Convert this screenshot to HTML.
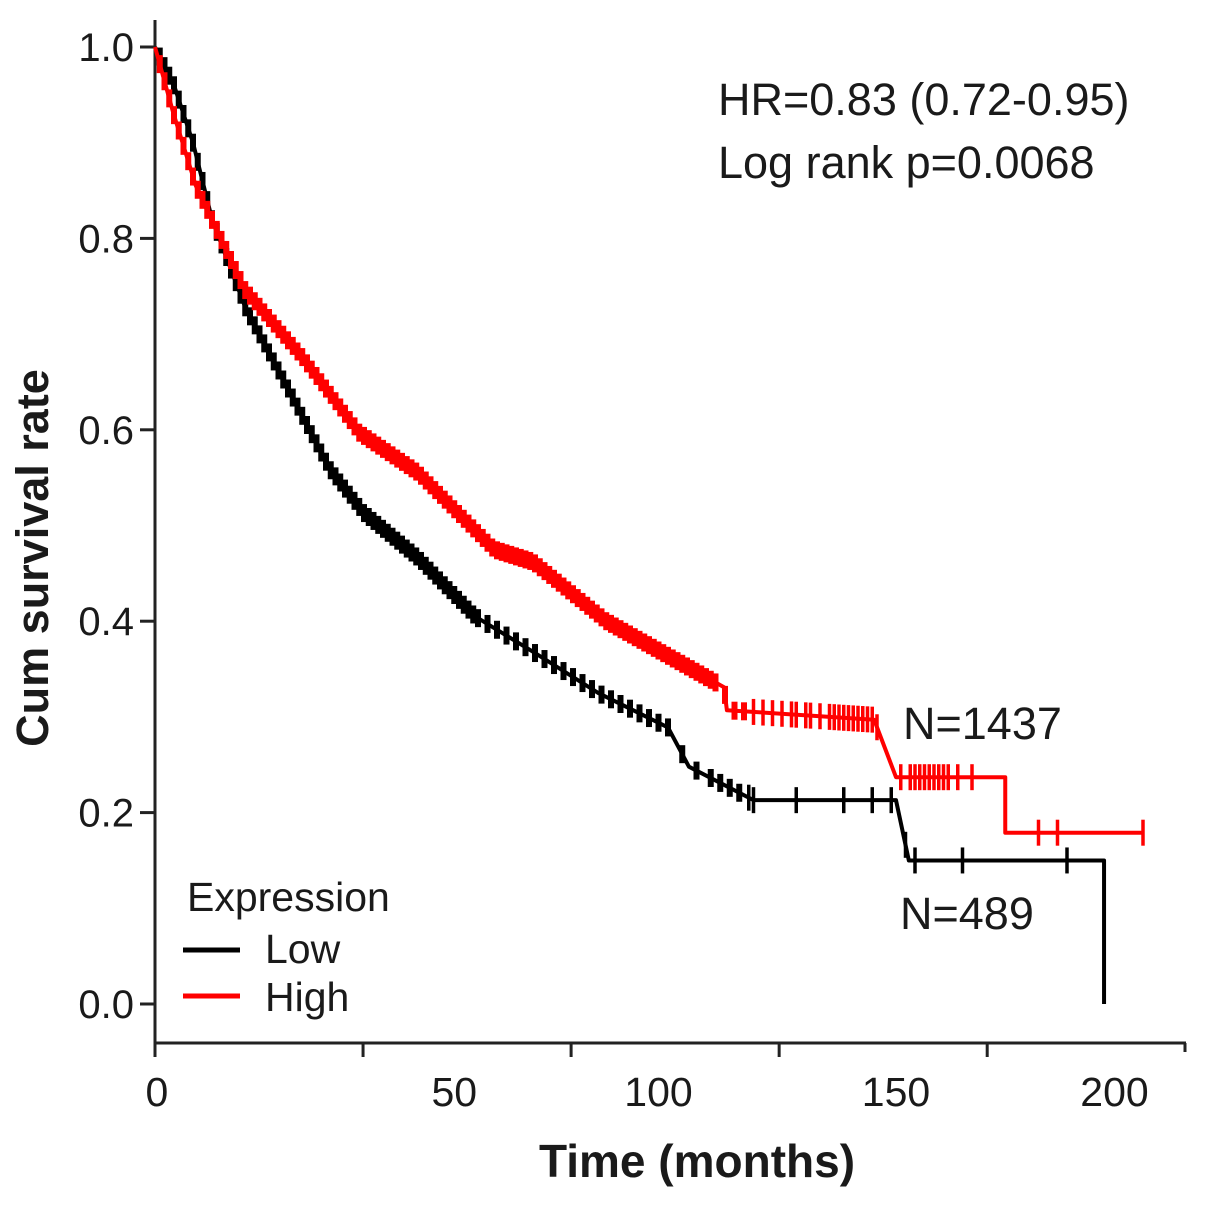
<!DOCTYPE html>
<html><head><meta charset="utf-8"><style>
body{margin:0;background:#fff}
svg text{font-family:"Liberation Sans",Arial,sans-serif;fill:#1a1a1a}
</style></head><body>
<svg id="c" width="1205" height="1200" viewBox="0 0 1205 1200" xmlns="http://www.w3.org/2000/svg">
<g id="axes"></g>
<g id="series"></g>
<text x="718" y="115" font-size="45">HR=0.83 (0.72-0.95)</text>
<text x="718" y="178" font-size="45">Log rank p=0.0068</text>
<text x="903" y="739" font-size="45">N=1437</text>
<text x="900" y="929" font-size="45">N=489</text>
<g>
<text x="187" y="911" font-size="41">Expression</text>
<line x1="183" y1="950" x2="240" y2="950" stroke="#000" stroke-width="5"/>
<text x="265" y="963" font-size="41">Low</text>
<line x1="183" y1="996" x2="240" y2="996" stroke="#f00" stroke-width="5"/>
<text x="265" y="1011" font-size="41">High</text>
</g>
<text x="697" y="1177" font-size="46" font-weight="bold" text-anchor="middle">Time (months)</text>
<text transform="translate(48,558) rotate(-90)" font-size="45" font-weight="bold" text-anchor="middle">Cum survival rate</text>
</svg>
<script>
const yTicks=[0,0.2,0.4,0.6,0.8,1.0];
const yTickLabels=["0.0","0.2","0.4","0.6","0.8","1.0"];
const xTickMarks=[0,43.8,87.6,131.4,175.2];
const xLabelVals=[0.4,63,106,156,202];
const xLabels=["0","50","100","150","200"];
const lowT=[0,4,8,12,19,29.5,36.8,44,55.4,67.4,79.6,93.3,108,112.4,126,156,158.7,199.8,199.8];
const lowS=[1,0.96,0.9,0.82,0.728,0.629,0.559,0.513,0.466,0.405,0.368,0.325,0.289,0.248,0.213,0.213,0.15,0.15,0];
const highT=[0,3.8,8.6,19,31,43,55.4,71.4,79.6,95,119.8,120.4,151.4,156,179,179,208];
const highS=[1,0.932,0.855,0.746,0.676,0.597,0.555,0.475,0.462,0.4,0.331,0.307,0.297,0.237,0.237,0.179,0.179];
const lowCensor=[1,2,3,4,5,6,7,8,9,10,11,12,13,14,15,16,17,18,19,20,21,22,23,24,25,26,27,28,29,30,31,32,33,34,35,36,37,38,39,40,41,42,43,44,45,46,47,48,49,50,51,52,53,54,55,56,57,58,59,60,61,62,63,64,65,66,67,68,70,72,74,76,78,80,82,84,86,88,90,92,94,96,98,100,102,104,106,108,111,114,117,119,121,123,125,126,135,145,151,155,158,160,170,192];
const highCensor=[1,2,3,4,5,6,7,8,9,10,11,12,13,14,15,16,17,18,19,20,21,22,23,24,25,26,27,28,29,30,31,32,33,34,35,36,37,38,39,40,41,42,43,44,45,46,47,48,49,50,51,52,53,54,55,56,57,58,59,60,61,62,63,64,65,66,67,68,69,70,71,72,73,74,75,76,77,78,79,80,81,82,83,84,85,86,87,88,89,90,91,92,93,94,95,96,97,98,99,100,101,102,103,104,105,106,107,108,109,110,111,112,113,114,115,116,117,118,120,122,124,126,128,130,132,134,135,137,138,140,142,143,144,145,146,147,148,149,150,151,152,157,159,160,161,162,163,164,165,166,167,169,172,186,190,208];
const X=m=>155+m*4.75, Y=v=>1004-v*957;
const NS="http://www.w3.org/2000/svg";
const ax=document.getElementById('axes'), se=document.getElementById('series');
function mk(tag,attrs,parent){const e=document.createElementNS(NS,tag);for(const k in attrs)e.setAttribute(k,attrs[k]);parent.appendChild(e);return e;}
let e=mk('line',{x1:155,y1:20,x2:155,y2:1045,stroke:'#222','stroke-width':3},ax);


e=mk('line',{x1:154,y1:1043,x2:1186,y2:1043,stroke:'#222','stroke-width':3},ax);


yTicks.forEach((v,i)=>{
 let t=mk('line',{x1:140,y1:Y(v),x2:155,y2:Y(v),stroke:'#222','stroke-width':3},ax);
 
 
 let l=mk('text',{x:134,y:Y(v)+14,'font-size':40,'text-anchor':'end'},ax);l.textContent=yTickLabels[i];
 
 
});
xTickMarks.forEach(m=>{
 let t=mk('line',{x1:X(m),y1:1043,x2:X(m),y2:1057,stroke:'#222','stroke-width':3},ax);
 
 
});
mk('line',{x1:1185,y1:1043,x2:1185,y2:1052,stroke:'#222','stroke-width':3},ax);
xLabelVals.forEach((m,i)=>{
 let l=mk('text',{x:X(m),y:1106,'font-size':41,'text-anchor':'middle'},ax);l.textContent=xLabels[i];
 
 
});
function interp(T,S,m){for(let i=T.length-1;i>=0;i--){if(T[i]<=m){if(i<T.length-1&&T[i+1]>T[i])return S[i]+(S[i+1]-S[i])*(m-T[i])/(T[i+1]-T[i]);return S[i];}}return S[0];}
function drawSeries(T,S,C,color,name){
 let d=T.map((t,i)=>(i?'L':'M')+X(t)+','+Y(S[i])).join(' ');
 let p=mk('path',{d:d,fill:'none',stroke:color,'stroke-width':4,'stroke-linejoin':'round'},se);
 
 
 C.forEach(m=>{
  let v=interp(T,S,m);
  let dense=m<125;
  let t=mk('line',{x1:X(m),y1:Y(v)-(dense?9:13),x2:X(m),y2:Y(v)+(dense?9:13),stroke:color,'stroke-width':dense?6:3.5},se);
  
  
 });
}
drawSeries(lowT,lowS,lowCensor,'#000','low-expression');
drawSeries(highT,highS,highCensor,'#f00','high-expression');
</script>
</body></html>
